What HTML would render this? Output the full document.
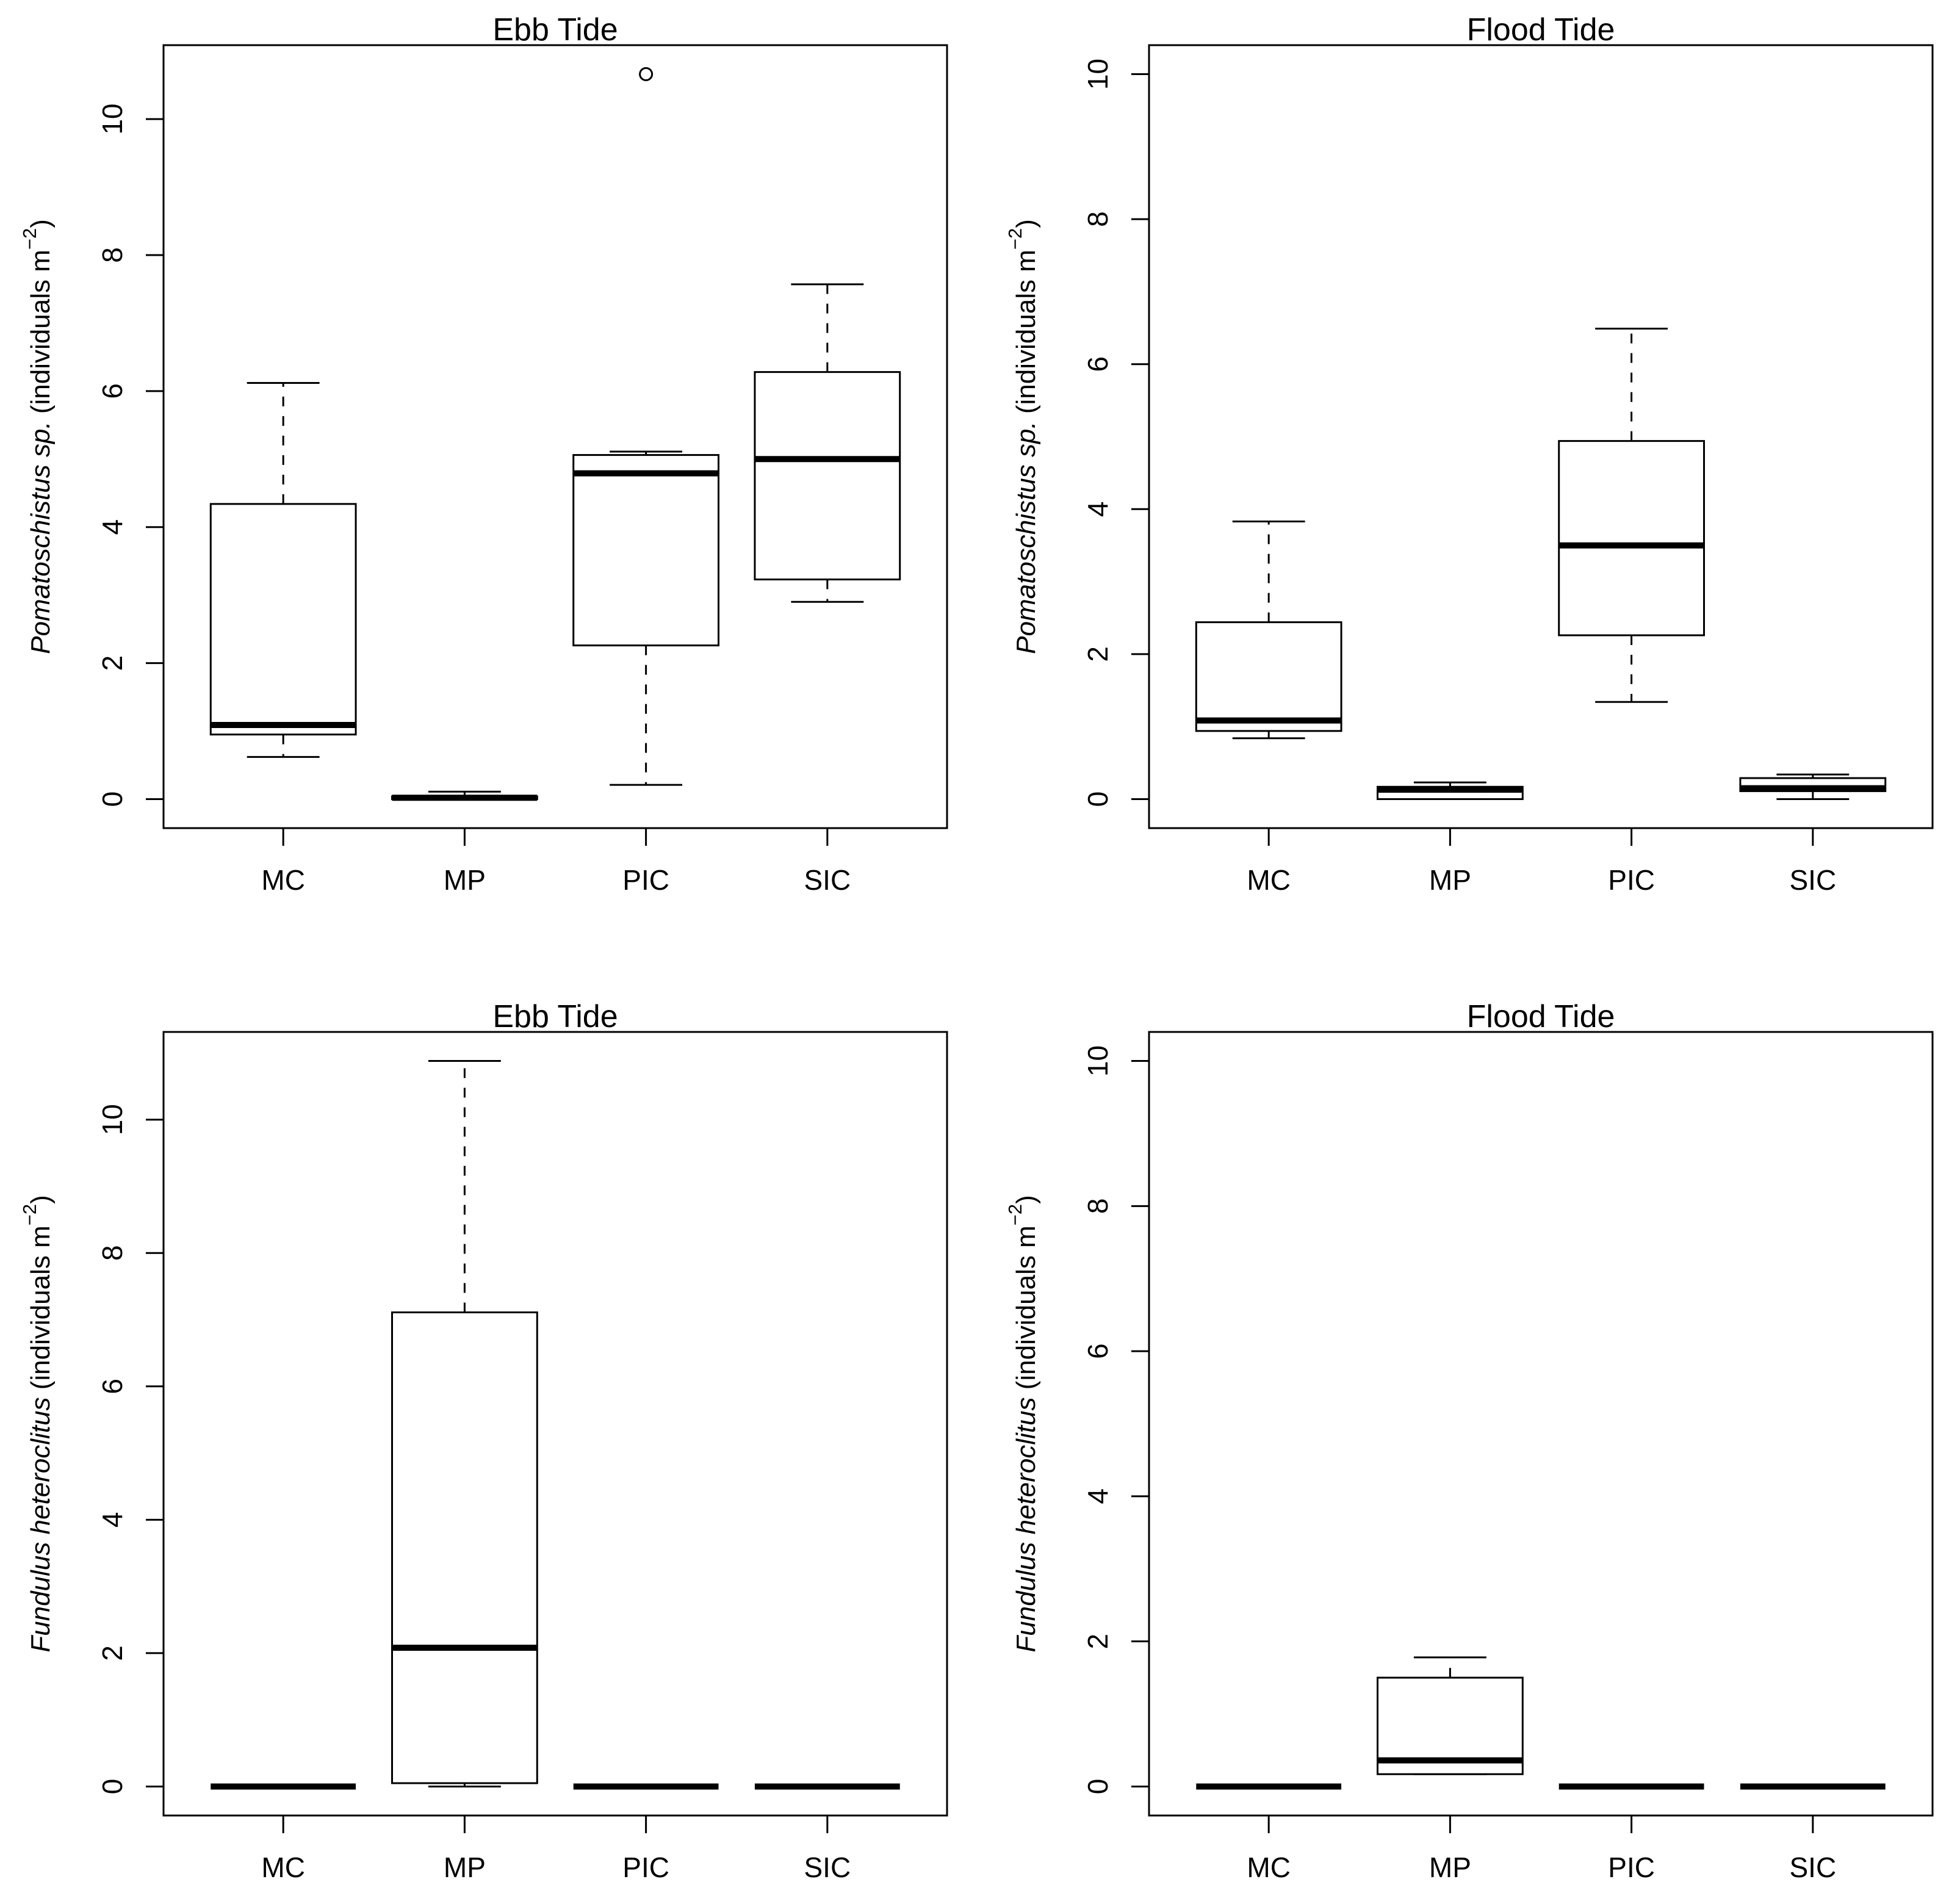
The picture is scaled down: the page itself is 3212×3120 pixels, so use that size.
<!DOCTYPE html>
<html><head><meta charset="utf-8"><style>
html,body{margin:0;padding:0;background:#fff;}
svg{display:block;}
text{font-family:"Liberation Sans",sans-serif;fill:#000;}
</style></head><body>
<svg id="fig" xmlns="http://www.w3.org/2000/svg" width="3212" height="3120" viewBox="0 0 3212 3120"></svg>
<script>
const categories = ["MC","MP","PIC","SIC"];
// five-number summaries: [low whisker, Q1, median, Q3, high whisker]
const ebbPomLow    = [0.62, 0.00, 0.21, 2.90];
const ebbPomQ1     = [0.95, 0.00, 2.26, 3.23];
const ebbPomMed    = [1.09, 0.02, 4.79, 5.00];
const ebbPomQ3     = [4.34, 0.04, 5.06, 6.28];
const ebbPomHigh   = [6.12, 0.11, 5.11, 7.57];
const ebbPomOut    = [[], [], [10.66], []];
const floodPomLow  = [0.84, 0.00, 1.34, 0.00];
const floodPomQ1   = [0.94, 0.00, 2.26, 0.11];
const floodPomMed  = [1.085, 0.13, 3.50, 0.15];
const floodPomQ3   = [2.44, 0.17, 4.94, 0.29];
const floodPomHigh = [3.83, 0.23, 6.49, 0.34];
const ebbFunLow    = [0, 0.00, 0, 0];
const ebbFunQ1     = [0, 0.05, 0, 0];
const ebbFunMed    = [0, 2.08, 0, 0];
const ebbFunQ3     = [0, 7.11, 0, 0];
const ebbFunHigh   = [0, 10.88, 0, 0];
const floodFunLow  = [0, 0.17, 0, 0];
const floodFunQ1   = [0, 0.17, 0, 0];
const floodFunMed  = [0, 0.36, 0, 0];
const floodFunQ3   = [0, 1.50, 0, 0];
const floodFunHigh = [0, 1.78, 0, 0];
const yTicks = [0, 2, 4, 6, 8, 10];
const titles = ["Ebb Tide", "Flood Tide", "Ebb Tide", "Flood Tide"];

const NS = "http://www.w3.org/2000/svg";
const svg = document.getElementById("fig");
function mk(tag, attrs, parent){
  const e = document.createElementNS(NS, tag);
  for (const k in attrs) e.setAttribute(k, attrs[k]);
  (parent||svg).appendChild(e); return e;
}

const panels = [
  {L:268, T:74, B:1357, ymin:0, ymax:10.66, low:ebbPomLow,q1:ebbPomQ1,med:ebbPomMed,q3:ebbPomQ3,high:ebbPomHigh,out:ebbPomOut, sp:"Pomatoschistus sp.", key:"ebb-pomatoschistus"},
  {L:1883, T:74, B:1357, ymin:0, ymax:10, low:floodPomLow,q1:floodPomQ1,med:floodPomMed,q3:floodPomQ3,high:floodPomHigh,out:[[],[],[],[]], sp:"Pomatoschistus sp.", key:"flood-pomatoschistus"},
  {L:268, T:1691, B:2975, ymin:0, ymax:10.88, low:ebbFunLow,q1:ebbFunQ1,med:ebbFunMed,q3:ebbFunQ3,high:ebbFunHigh,out:[[],[],[],[]], sp:"Fundulus heteroclitus", key:"ebb-fundulus"},
  {L:1883, T:1691, B:2975, ymin:0, ymax:10, low:floodFunLow,q1:floodFunQ1,med:floodFunMed,q3:floodFunQ3,high:floodFunHigh,out:[[],[],[],[]], sp:"Fundulus heteroclitus", key:"flood-fundulus"}
];

panels.forEach((p, pi) => {
  const W = 1284, H = p.B - p.T;
  const g = mk("g", {});
  
  
  const ext = (p.ymax - p.ymin) * 0.04;
  const y0 = p.ymin - ext, y1 = p.ymax + ext;
  const yS = v => p.B - (v - y0) / (y1 - y0) * H;
  const xS = i => p.L + (i + 1 - 0.34) / 4.32 * W;
  const bw = 0.4 / 4.32 * W;

  const t = mk("text", {x: p.L + W/2, y: p.T - 8, "text-anchor":"middle", "font-size":52}, g);
  t.textContent = titles[pi];
  
  

  const frame = mk("rect", {x:p.L, y:p.T, width:W, height:H, fill:"none", stroke:"#000", "stroke-width":3}, g);
  
  

  yTicks.forEach(v => {
    const y = yS(v);
    const tk = mk("line", {x1:p.L-29, x2:p.L, y1:y, y2:y, stroke:"#000", "stroke-width":3}, g);
    
    
    const lb = mk("text", {x:0, y:0, transform:`translate(${p.L-84},${y}) rotate(-90)`, "text-anchor":"middle", "dominant-baseline":"central", "font-size":46}, g);
    lb.textContent = String(v);
    
    
  });

  const yl = mk("text", {x:0, y:0, transform:`translate(${p.L-202},${p.T+H/2}) rotate(-90)`, "text-anchor":"middle", "dominant-baseline":"central", "font-size":44}, g);
  
  
  const s1 = mk("tspan", {"font-style":"italic"}, yl); s1.textContent = p.sp + " ";
  const s2 = mk("tspan", {}, yl); s2.textContent = "(individuals m";
  const s3 = mk("tspan", {"font-size":31, "baseline-shift":"super"}, yl); s3.textContent = "\u22122";
  const s4 = mk("tspan", {}, yl); s4.textContent = ")";

  categories.forEach((c, i) => {
    const x = xS(i);
    const tk = mk("line", {x1:x, x2:x, y1:p.B, y2:p.B+29, stroke:"#000", "stroke-width":3}, g);
    
    
    const lb = mk("text", {x:x, y:p.B+101, "text-anchor":"middle", "font-size":46}, g);
    lb.textContent = c;
    
    

    const bx = mk("g", {}, g);
    
    
    const lo = yS(p.low[i]), q1 = yS(p.q1[i]), md = yS(p.med[i]), q3 = yS(p.q3[i]), hi = yS(p.high[i]);
    mk("line", {x1:x, x2:x, y1:q3, y2:hi, stroke:"#000", "stroke-width":3, "stroke-dasharray":"16 16"}, bx);
    mk("line", {x1:x, x2:x, y1:q1, y2:lo, stroke:"#000", "stroke-width":3, "stroke-dasharray":"16 16"}, bx);
    mk("line", {x1:x-bw/2, x2:x+bw/2, y1:hi, y2:hi, stroke:"#000", "stroke-width":3}, bx);
    mk("line", {x1:x-bw/2, x2:x+bw/2, y1:lo, y2:lo, stroke:"#000", "stroke-width":3}, bx);
    mk("rect", {x:x-bw, y:q3, width:2*bw, height:Math.max(q1-q3,0), fill:"#fff", stroke:"#000", "stroke-width":3}, bx);
    mk("line", {x1:x-bw, x2:x+bw, y1:md, y2:md, stroke:"#000", "stroke-width":10, "stroke-linecap":"butt"}, bx);
    p.out[i].forEach(v => {
      const o = mk("ellipse", {cx:x, cy:yS(v), rx:10, ry:10, fill:"none", stroke:"#000", "stroke-width":3}, bx);
      
      
    });
  });
});
</script>
</body></html>
